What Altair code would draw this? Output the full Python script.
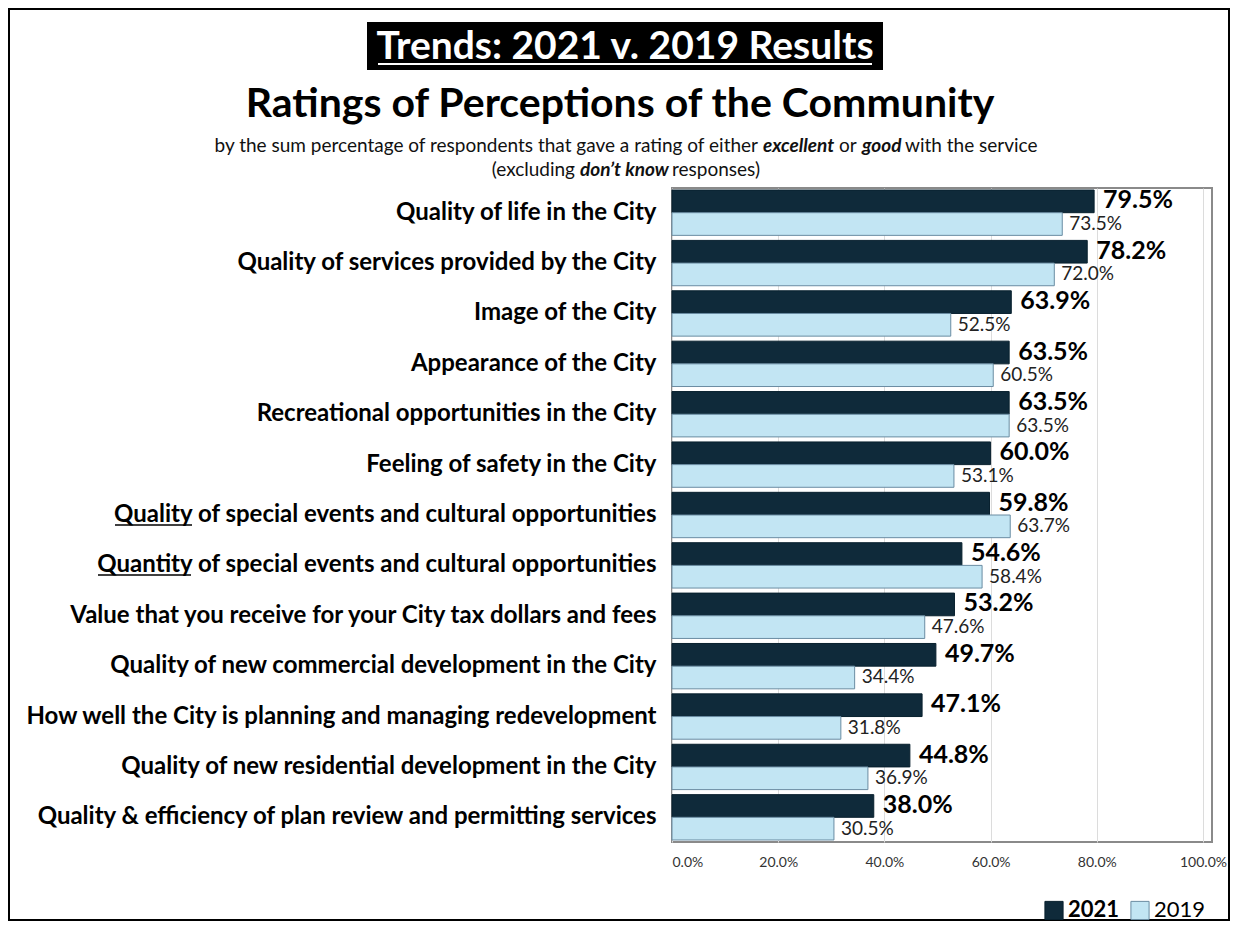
import altair as alt
import pandas as pd

categories = [
    "Quality of life in the City",
    "Quality of services provided by the City",
    "Image of the City",
    "Appearance of the City",
    "Recreational opportunities in the City",
    "Feeling of safety in the City",
    "Quality of special events and cultural opportunities",
    "Quantity of special events and cultural opportunities",
    "Value that you receive for your City tax dollars and fees",
    "Quality of new commercial development in the City",
    "How well the City is planning and managing redevelopment",
    "Quality of new residential development in the City",
    "Quality & efficiency of plan review and permitting services",
]
v2021 = [79.5, 78.2, 63.9, 63.5, 63.5, 60.0, 59.8, 54.6, 53.2, 49.7, 47.1, 44.8, 38.0]
v2019 = [73.5, 72.0, 52.5, 60.5, 63.5, 53.1, 63.7, 58.4, 47.6, 34.4, 31.8, 36.9, 30.5]
years = ["2021", "2019"]
x_ticks = [0, 20, 40, 60, 80, 100]

title_text = "Trends: 2021 v. 2019 Results"
subtitle_text = "Ratings of Perceptions of the Community"
line1 = [
    ("by the sum percentage of respondents that gave a rating of either", "normal", "normal"),
    ("excellent", "bold", "italic"),
    ("or", "normal", "normal"),
    ("good", "bold", "italic"),
    ("with the service", "normal", "normal"),
]
line2 = [
    ("(excluding", "normal", "normal"),
    ("don\u2019t know", "bold", "italic"),
    ("responses)", "normal", "normal"),
]

rows = []
for c, a, b in zip(categories, v2021, v2019):
    rows.append({"item": c, "year": "2021", "value": a})
    rows.append({"item": c, "year": "2019", "value": b})
df = pd.DataFrame(rows)

FONT = "Lato"
W, H = 540, 654

y_enc = alt.Y(
    "item:N", sort=categories,
    scale=alt.Scale(paddingInner=0.1, paddingOuter=0.04),
    axis=alt.Axis(title=None, labelFont=FONT, labelFontSize=24, labelFontWeight="bold",
                  labelColor="black", labelPadding=16, ticks=False, domain=False,
                  labelLimit=800),
)
yoff = alt.YOffset("year:N", sort=years,
                   scale=alt.Scale(domain=years, paddingInner=0, paddingOuter=0))
x_enc = alt.X(
    "value:Q", scale=alt.Scale(domain=[0, 101.7], nice=False),
    axis=alt.Axis(title=None, values=x_ticks,
                  labelExpr="format(datum.value, '.1f') + '%'",
                  labelFont=FONT, labelFontSize=14, labelColor="#333333",
                  labelPadding=13, ticks=False, domain=False, grid=True,
                  gridColor="#dcdcdc", gridWidth=1),
)

bars = alt.Chart(df).mark_bar(strokeWidth=1).encode(
    y=y_enc, yOffset=yoff, x=x_enc,
    color=alt.Color(
        "year:N", sort=years,
        scale=alt.Scale(domain=years, range=["#0f2a3a", "#c2e5f3"]),
        legend=alt.Legend(
            title=None, orient="none", legendX=371, legendY=711,
            direction="horizontal", symbolType="square", symbolSize=330,
            symbolStrokeColor="#5f8198", symbolStrokeWidth=1,
            labelFont=FONT, labelFontSize=22, labelColor="black",
            labelFontWeight={"expr": "datum.label == '2021' ? 'bold' : 'normal'"},
            columnPadding=8, labelOffset=3,
        ),
    ),
    stroke=alt.Stroke("year:N", sort=years,
                      scale=alt.Scale(domain=years, range=["#08202e", "#6a8ca2"]),
                      legend=None),
)

lab21 = alt.Chart(df).transform_filter("datum.year == '2021'").transform_calculate(
    label="format(datum.value, '.1f') + '%'"
).mark_text(align="left", baseline="middle", dx=9, dy=-1, font=FONT, fontSize=25,
            fontWeight="bold", color="black").encode(
    y=y_enc, yOffset=yoff, x=x_enc, text="label:N")

lab19 = alt.Chart(df).transform_filter("datum.year == '2019'").transform_calculate(
    label="format(datum.value, '.1f') + '%'"
).mark_text(align="left", baseline="middle", dx=7, dy=0, font=FONT, fontSize=19,
            color="#222222").encode(
    y=y_enc, yOffset=yoff, x=x_enc, text="label:N")

one = pd.DataFrame({"k": [0]})
base = alt.Chart(one)

border = base.mark_rect(filled=False, stroke="black", strokeWidth=2).encode(
    x=alt.value(-663), x2=alt.value(557), y=alt.value(-179), y2=alt.value(732))
tbox = base.mark_rect(color="black").encode(
    x=alt.value(-305), x2=alt.value(211), y=alt.value(-166), y2=alt.value(-118))
ttext = base.mark_text(font=FONT, fontSize=39, fontWeight="bold", color="white",
                       baseline="alphabetic", align="center").encode(
    x=alt.value(-47), y=alt.value(-129), text=alt.value(title_text))
tline = base.mark_rule(color="white", strokeWidth=2).encode(
    x=alt.value(-294), x2=alt.value(200), y=alt.value(-124))
stext = base.mark_text(font=FONT, fontSize=41, fontWeight="bold", color="black",
                       baseline="alphabetic", align="center").encode(
    x=alt.value(-52), y=alt.value(-71), text=alt.value(subtitle_text))

# underlines under "Quality" / "Quantity" in two axis labels
ul1 = base.mark_rule(color="black", strokeWidth=1.5).encode(
    x=alt.value(-557), x2=alt.value(-480), y=alt.value(337))
ul2 = base.mark_rule(color="black", strokeWidth=1.5).encode(
    x=alt.value(-574), x2=alt.value(-481), y=alt.value(387))

l1_pos = [(86, "right"), (91, "left"), (167, "left"), (190, "left"), (233, "left")]
l2_pos = [(-97, "right"), (-92, "left"), (0, "left")]
small = []
for (txt, fw, fs), (xp, al) in zip(line1, l1_pos):
    small.append(base.mark_text(font=FONT, fontSize=19, fontWeight=fw, fontStyle=fs,
                                color="#111111", align=al, baseline="alphabetic").encode(
        x=alt.value(xp), y=alt.value(-36), text=alt.value(txt)))
for (txt, fw, fs), (xp, al) in zip(line2, l2_pos):
    small.append(base.mark_text(font=FONT, fontSize=19, fontWeight=fw, fontStyle=fs,
                                color="#111111", align=al, baseline="alphabetic").encode(
        x=alt.value(xp), y=alt.value(-12), text=alt.value(txt)))

chart = alt.layer(bars, lab21, lab19, border, tbox, ttext, tline, stext, ul1, ul2,
                  *small).properties(
    width=W, height=H,
    autosize=alt.AutoSizeParams(type="none"),
    padding={"left": 664, "top": 180, "right": 18, "bottom": 79},
    background="white",
).configure_view(stroke="#8a8a8a", strokeWidth=2)

chart.save("out.html", embed_options={"renderer": "svg", "actions": False})
